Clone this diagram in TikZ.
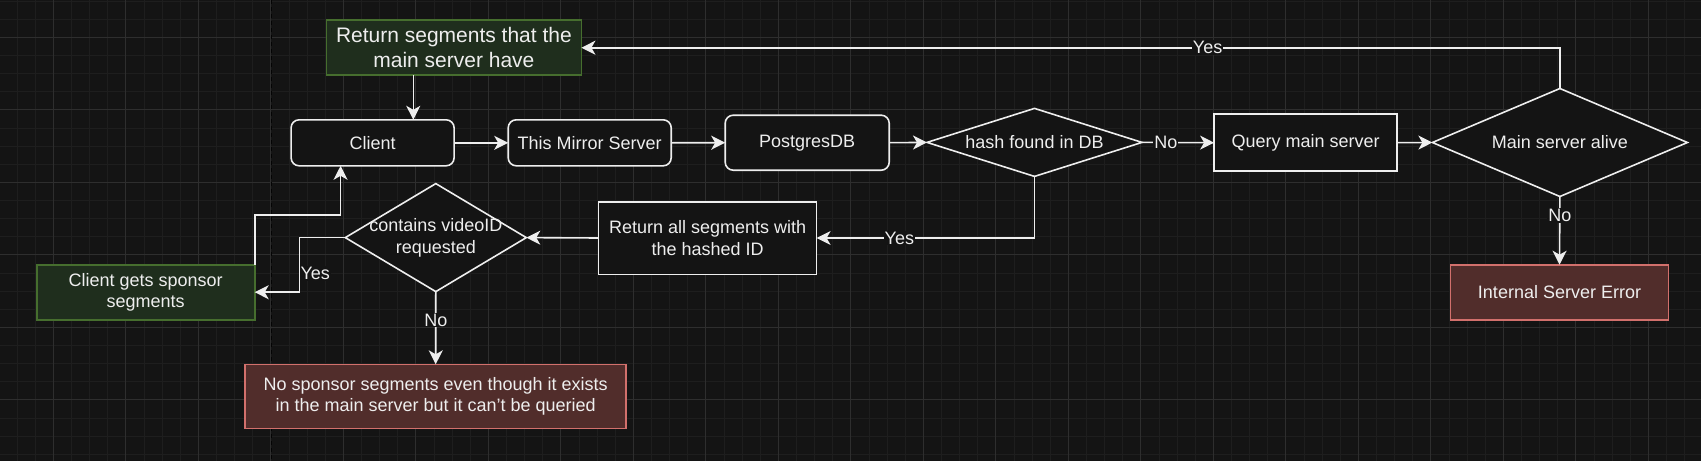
\documentclass[tikz,border=0pt]{standalone}
\usepackage{fontspec}
\setmainfont{Liberation Sans}
\usetikzlibrary{shapes.geometric,arrows.meta}

\definecolor{bgcol}{RGB}{20,20,20}
\definecolor{minorcol}{RGB}{30,30,30}
\definecolor{majorcol}{RGB}{46,46,46}
\definecolor{linecol}{RGB}{238,238,238}
\definecolor{okfill}{RGB}{31,46,29}
\definecolor{okline}{RGB}{70,110,46}
\definecolor{errfill}{RGB}{81,45,43}
\definecolor{errline}{RGB}{210,112,108}

\tikzset{
	boxtext/.style={text=linecol, font=\fontsize{18pt}{21.5pt}\selectfont, align=center},
	procbox/.style={boxtext, rectangle, draw=linecol, fill=bgcol, line width=1.6pt, inner sep=0pt, outer sep=0pt},
	roundbox/.style={procbox, rounded corners=8pt},
	okbox/.style={procbox, draw=okline, fill=okfill},
	errbox/.style={procbox, draw=errline, fill=errfill},
	decision/.style={diamond, draw=linecol, fill=bgcol, line width=1.6pt, inner sep=0pt, outer sep=0pt},
	dtext/.style={boxtext},
	lbl/.style={boxtext, fill=bgcol, inner sep=1pt},
	flow/.style={draw=linecol, line width=1.6pt, -{Stealth[length=14pt,width=14pt,inset=4pt]}}
}

\begin{document}
\begin{tikzpicture}[x=1pt, y=-1pt]
	\useasboundingbox (0,0) rectangle (1701,461);
	\fill[bgcol] (0,0) rectangle (1701,461);

	% Grid
	\begin{scope}
	\clip (0,0) rectangle (1701,461);
	\foreach \i in {-3,...,91}
		\draw[minorcol, line width=0.8pt] ({53.3+18.125*\i},0) -- ({53.3+18.125*\i},461);
	\foreach \j in {-2,...,23}
		\draw[minorcol, line width=0.8pt] (0,{37.3+18.125*\j}) -- (1701,{37.3+18.125*\j});
	\foreach \i in {0,...,22}
		\draw[majorcol, line width=1pt] ({53.3+72.5*\i},0) -- ({53.3+72.5*\i},461);
	\foreach \j in {0,...,5}
		\draw[majorcol, line width=1pt] (0,{37.3+72.5*\j}) -- (1701,{37.3+72.5*\j});
	\draw[majorcol!120, line width=1pt, dash pattern=on 4pt off 3pt] (271.5,0) -- (271.5,461);
	\end{scope}

	% Top row
	\node[okbox, minimum width=255pt, minimum height=55pt, font=\fontsize{21pt}{25.5pt}\selectfont] (ret) at (453.9,47.7) {Return segments that the\\main server have};
	\node[roundbox, minimum width=163pt, minimum height=46pt] (client) at (372.6,142.8) {Client};
	\node[roundbox, minimum width=163pt, minimum height=46pt] (mirror) at (589.7,142.8) {This Mirror Server};
	\node[roundbox, minimum width=164pt, minimum height=55pt] (pg) at (807.2,142.7) {PostgresDB};
	\node[decision, minimum width=215pt, minimum height=68pt, label={[dtext]center:hash found in DB}] (hash) at (1034.5,142.4) {};
	\node[procbox, minimum width=183pt, minimum height=57pt] (query) at (1305.6,142.7) {Query main server};
	\node[decision, minimum width=255pt, minimum height=108pt, label={[dtext]center:Main server alive}] (alive) at (1559.9,142.5) {};
	\node[errbox, minimum width=218pt, minimum height=55pt] (srverr) at (1559.5,292.2) {Internal Server Error};

	% Lower row
	\node[procbox, minimum width=218pt, minimum height=72.6pt] (retall) at (707.6,238) {Return all segments with\\the hashed ID};
	\node[decision, minimum width=181pt, minimum height=108pt, label={[dtext]center:{contains videoID\\requested}}] (contains) at (435.8,237.6) {};
	\node[okbox, minimum width=218pt, minimum height=55pt] (sponsor) at (145.7,292.2) {Client gets sponsor\\segments};
	\node[errbox, minimum width=381pt, minimum height=64pt] (noseg) at (435.7,396.3) {No sponsor segments even though it exists\\in the main server but it can't be queried};

	% Connectors
	\draw[flow] ([xshift=-40.6pt]ret.south) -- ([xshift=-40.6pt]ret.south |- client.north);
	\draw[flow] (client.east) -- (mirror.west);
	\draw[flow] (mirror.east) -- (pg.west);
	\draw[flow] (pg.east) -- (hash.west);
	\draw[flow] (hash.east) -- node[lbl, pos=0.33] {No} (query.west);
	\draw[flow] (query.east) -- (alive.west);
	\draw[flow] (alive.north) |- node[lbl, pos=0.68] {Yes} (ret.east);
	\draw[flow] (alive.south) -- node[lbl, pos=0.28] {No} (srverr.north);
	\draw[flow] (hash.south) |- node[lbl, pos=0.81] {Yes} (retall.east);
	\draw[flow] (retall.west) -- (contains.east);
	\draw[flow] (contains.west) -- ++(-46,0) |- node[lbl, pos=0.33, xshift=16pt] {Yes} (sponsor.east);
	\draw[flow] (contains.south) -- node[lbl, pos=0.39] {No} (noseg.north);
	\draw[flow] (sponsor.north east) -- ++(0,-50) -| ([xshift=-32pt]client.south);
\end{tikzpicture}
\end{document}
